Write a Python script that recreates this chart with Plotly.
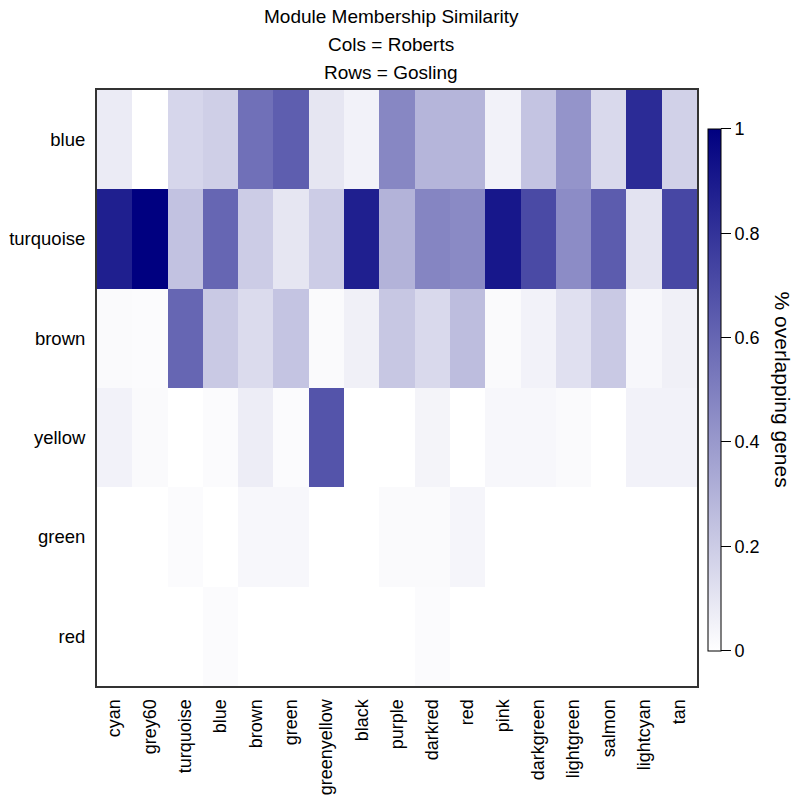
import plotly.graph_objects as go

cols = ["cyan", "grey60", "turquoise", "blue", "brown", "green", "greenyellow", "black",
        "purple", "darkred", "red", "pink", "darkgreen", "lightgreen", "salmon", "lightcyan", "tan"]
rows = ["blue", "turquoise", "brown", "yellow", "green", "red"]

row_blue      = [0.08, 0.00, 0.16, 0.19, 0.56, 0.63, 0.10, 0.05, 0.47, 0.29, 0.29, 0.05, 0.23, 0.42, 0.15, 0.83, 0.18]
row_turquoise = [0.88, 1.00, 0.24, 0.60, 0.20, 0.10, 0.20, 0.88, 0.30, 0.48, 0.46, 0.91, 0.71, 0.45, 0.64, 0.11, 0.72]
row_brown     = [0.02, 0.015, 0.60, 0.21, 0.14, 0.23, 0.02, 0.06, 0.22, 0.15, 0.26, 0.02, 0.05, 0.12, 0.21, 0.03, 0.06]
row_yellow    = [0.05, 0.02, 0.00, 0.015, 0.07, 0.015, 0.67, 0.00, 0.00, 0.045, 0.00, 0.03, 0.03, 0.02, 0.00, 0.05, 0.05]
row_green     = [0.00, 0.00, 0.015, 0.00, 0.03, 0.03, 0.00, 0.00, 0.02, 0.02, 0.04, 0.00, 0.00, 0.00, 0.00, 0.00, 0.00]
row_red       = [0.00, 0.00, 0.00, 0.015, 0.00, 0.00, 0.00, 0.00, 0.00, 0.015, 0.00, 0.00, 0.00, 0.00, 0.00, 0.00, 0.00]

z = [row_blue, row_turquoise, row_brown, row_yellow, row_green, row_red]

title_lines = ["Module Membership Similarity", "Cols = Roberts", "Rows = Gosling"]
cbar_title = "% overlapping genes"

font = "Liberation Sans, Arial, sans-serif"

fig = go.Figure(go.Heatmap(
    z=z, x=cols, y=rows,
    zmin=0, zmax=1,
    colorscale=[[0, "#FFFFFF"], [1, "#000080"]],
    colorbar=dict(
        x=1.018, xanchor="left", xpad=0, ypad=0,
        y=0.497, yanchor="middle",
        lenmode="pixels", len=522,
        thicknessmode="pixels", thickness=13,
        outlinewidth=1, outlinecolor="black",
        ticks="outside", ticklen=10, tickcolor="black", tickwidth=1,
        tickvals=[0, 0.2, 0.4, 0.6, 0.8, 1],
        ticktext=["0", "0.2", "0.4", "0.6", "0.8", "1"],
        tickfont=dict(family=font, size=18, color="black"),
    ),
))

fig.add_annotation(
    text=cbar_title, textangle=90,
    xref="paper", yref="paper", x=1.142, y=0.497,
    xanchor="center", yanchor="middle", showarrow=False,
    font=dict(family=font, size=21, color="black"),
)

for i, (line, ypix) in enumerate(zip(title_lines, [17, 45, 72])):
    fig.add_annotation(
        text=line, xref="paper", yref="paper",
        x=(391 - 97) / 600, y=(686 - ypix) / 596,
        xanchor="center", yanchor="middle", showarrow=False,
        font=dict(family=font, size=19, color="black"),
    )

fig.update_layout(
    width=797, height=797,
    margin=dict(l=97, r=100, t=90, b=111),
    paper_bgcolor="white", plot_bgcolor="white",
)
fig.update_xaxes(
    tickangle=-90, tickfont=dict(family=font, size=18, color="black"),
    showline=True, linecolor="#333333", linewidth=2, mirror=True, ticks="",
    showgrid=False, ticklabelstandoff=4, automargin=False,
)
fig.update_yaxes(
    autorange="reversed", tickfont=dict(family=font, size=18.5, color="black"),
    showline=True, linecolor="#333333", linewidth=2, mirror=True, ticks="",
    showgrid=False, ticklabelstandoff=6, automargin=False,
)

fig.write_html("out.html")
